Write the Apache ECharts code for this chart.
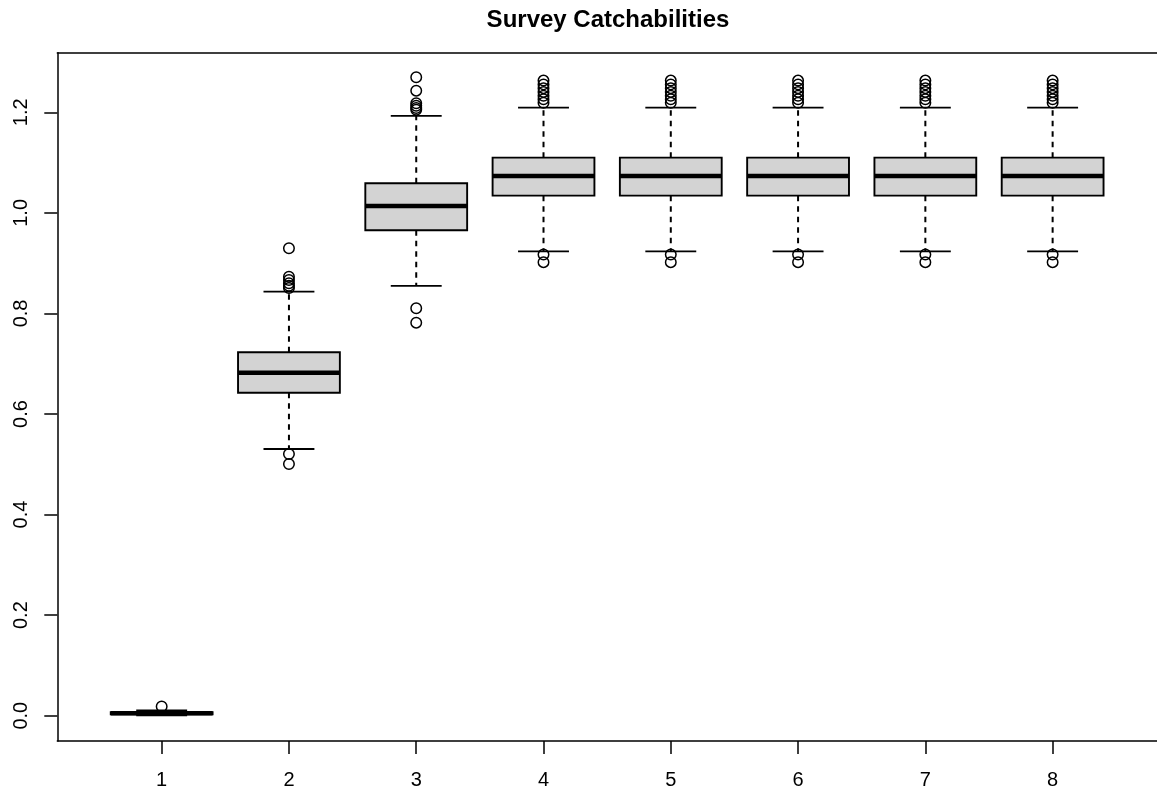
<!DOCTYPE html>
<html>
<head>
<meta charset="utf-8">
<script src="https://cdn.jsdelivr.net/npm/echarts@6/dist/echarts.min.js"></script>
<style>
  html, body { margin: 0; padding: 0; background: #ffffff; }
  #chart { width: 1157px; height: 795px; }
</style>
</head>
<body>
<div id="chart"></div>
<script>
// ---- data ----
const categories = ['1', '2', '3', '4', '5', '6', '7', '8'];
const positions = [1, 2, 3, 4, 5, 6, 7, 8];
const lowerWhisker = [0.0005, 0.5304, 0.8546, 0.9235, 0.9235, 0.9235, 0.9235, 0.9235];
const q1Values     = [0.0030, 0.6424, 0.9654, 1.0342, 1.0342, 1.0342, 1.0342, 1.0342];
const medianValues = [0.0048, 0.6822, 1.0137, 1.0734, 1.0734, 1.0734, 1.0734, 1.0734];
const q3Values     = [0.0068, 0.7227, 1.0589, 1.1098, 1.1098, 1.1098, 1.1098, 1.1098];
const upperWhisker = [0.0107, 0.8433, 1.1927, 1.2092, 1.2092, 1.2092, 1.2092, 1.2092];
// outliers per box
const outliers1 = [0.0183];
const outliers2 = [0.9296, 0.8730, 0.8665, 0.8600, 0.8550, 0.8505, 0.5205, 0.5006];
const outliers3 = [1.2697, 1.2430, 1.2180, 1.2130, 1.2085, 1.2050, 0.8103, 0.7816];
const outliersTail = [1.2630, 1.2555, 1.2480, 1.2405, 1.2330, 1.2260, 1.2190, 0.9170, 0.9020];
const outlierLists = [outliers1, outliers2, outliers3, outliersTail, outliersTail, outliersTail, outliersTail, outliersTail];
const yTicks = [0, 0.2, 0.4, 0.6, 0.8, 1.0, 1.2];
const titleText = 'Survey Catchabilities';

// ---- build series data ----
const boxData = positions.map((p, i) => [p, lowerWhisker[i], q1Values[i], medianValues[i], q3Values[i], upperWhisker[i]]);
const outlierData = [];
outlierLists.forEach((list, i) => list.forEach(v => outlierData.push([positions[i], v])));

const FONT = '"Liberation Sans", Arial, "DejaVu Sans", sans-serif';

function renderBox(params, api) {
  const x = api.value(0);
  const pLw = api.coord([x, api.value(1)]);
  const pQ1 = api.coord([x, api.value(2)]);
  const pMed = api.coord([x, api.value(3)]);
  const pQ3 = api.coord([x, api.value(4)]);
  const pUw = api.coord([x, api.value(5)]);
  const cx = pMed[0];
  const halfBox = api.size([0.4, 0])[0];
  const halfCap = api.size([0.2, 0])[0];
  const dashStyle = { stroke: '#000', lineWidth: 2, lineDash: [5.5, 5] };
  const solid = { stroke: '#000', lineWidth: 1.8 };
  return {
    type: 'group',
    children: [
      { type: 'line', shape: { x1: cx, y1: pQ3[1], x2: cx, y2: pUw[1] }, style: dashStyle },
      { type: 'line', shape: { x1: cx, y1: pQ1[1], x2: cx, y2: pLw[1] }, style: dashStyle },
      { type: 'rect', shape: { x: cx - halfBox, y: pQ3[1], width: 2 * halfBox, height: pQ1[1] - pQ3[1] },
        style: { fill: '#D3D3D3', stroke: '#000', lineWidth: 1.9 } },
      { type: 'line', shape: { x1: cx - halfBox, y1: pMed[1], x2: cx + halfBox, y2: pMed[1] },
        style: { stroke: '#000', lineWidth: 4.5 } },
      { type: 'line', shape: { x1: cx - halfCap, y1: pUw[1], x2: cx + halfCap, y2: pUw[1] }, style: solid },
      { type: 'line', shape: { x1: cx - halfCap, y1: pLw[1], x2: cx + halfCap, y2: pLw[1] }, style: solid }
    ]
  };
}

const axisLineStyle = { color: '#000', width: 1.5 };

const chart = echarts.init(document.getElementById('chart'), null, { renderer: 'canvas' });
chart.setOption({
  animation: false,
  backgroundColor: '#ffffff',
  graphic: [{
    type: 'text', x: 608, y: 20,
    style: { text: titleText, font: 'bold 24px ' + FONT, fill: '#000', textAlign: 'center', textVerticalAlign: 'middle' }
  }],
  grid: {
    left: 57.3, top: 52.7, width: 1101.9, height: 688.3, show: false
  },
  xAxis: [{
    type: 'value', min: 0.18, max: 8.82, position: 'bottom',
    axisLine: { show: true, onZero: false, lineStyle: axisLineStyle },
    splitLine: { show: false },
    axisTick: { show: true, length: 13, lineStyle: axisLineStyle, customValues: positions },
    axisLabel: {
      customValues: positions, margin: 29, fontSize: 20, fontFamily: FONT, color: '#000',
      formatter: v => categories[Math.round(v) - 1] || ''
    }
  }, {
    type: 'value', min: 0.18, max: 8.82, position: 'top',
    axisLine: { show: true, onZero: false, lineStyle: axisLineStyle },
    splitLine: { show: false }, axisTick: { show: false }, axisLabel: { show: false }
  }],
  yAxis: {
    type: 'value', min: -0.0503, max: 1.3185,
    axisLine: { show: true, onZero: false, lineStyle: axisLineStyle },
    splitLine: { show: false },
    axisTick: { show: true, length: 13, lineStyle: axisLineStyle, customValues: yTicks },
    axisLabel: {
      customValues: yTicks, rotate: 90, margin: 26, fontSize: 20, fontFamily: FONT, color: '#000',
      formatter: v => v.toFixed(1)
    }
  },
  series: [
    {
      type: 'custom', renderItem: renderBox, data: boxData, xAxisIndex: 0,
      encode: { x: 0, y: [1, 2, 3, 4, 5] }, clip: false, z: 2
    },
    {
      type: 'scatter', data: outlierData, xAxisIndex: 0, symbol: 'circle', symbolSize: 10.5, z: 3,
      itemStyle: { color: 'rgba(0,0,0,0)', borderColor: '#000', borderWidth: 1.5, opacity: 1 },
      emphasis: { disabled: true }
    }
  ]
});
</script>
</body>
</html>
